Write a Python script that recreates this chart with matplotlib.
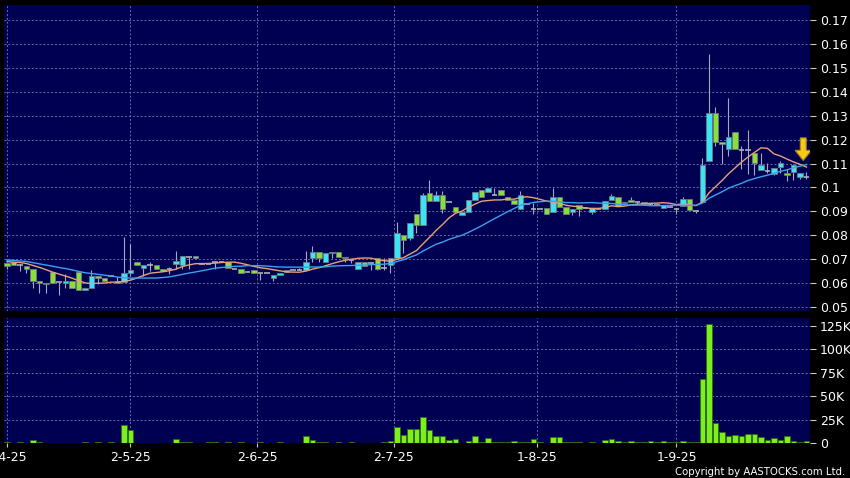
import numpy as np
import pandas as pd
import matplotlib
matplotlib.use("Agg")
import matplotlib.pyplot as plt
from matplotlib.patches import Polygon
from matplotlib.ticker import FixedLocator, FuncFormatter

# daily OHLC, one value per trading day (124 days)
opens = [
    0.0685, 0.069, 0.0675, 0.0672, 0.0658, 0.0608, 0.060, 0.0645, 0.0605, 0.060,
    0.0608, 0.0645, 0.0572, 0.058, 0.063, 0.0622, 0.063, 0.061, 0.0604, 0.0643,
    0.0689, 0.0665, 0.0675, 0.0675, 0.066, 0.0657, 0.068, 0.0674, 0.071, 0.0712,
    0.068, 0.068, 0.0688, 0.0688, 0.0689, 0.066, 0.0661, 0.0648, 0.0653, 0.0644,
    0.0644, 0.0621, 0.0632, 0.0654, 0.0654, 0.0655, 0.0654, 0.0703, 0.0732, 0.069,
    0.0724, 0.0732, 0.0711, 0.0695, 0.0661, 0.069, 0.0685, 0.0703, 0.0664, 0.0674,
    0.0703, 0.0803, 0.0789, 0.089, 0.0842, 0.0976, 0.0942, 0.097, 0.094, 0.092,
    0.0883, 0.0899, 0.0949, 0.099, 0.098, 0.0968, 0.099, 0.0962, 0.0949, 0.0911,
    0.093, 0.0911, 0.091, 0.0912, 0.0896, 0.0958, 0.0917, 0.0899, 0.0926, 0.0915,
    0.0899, 0.091, 0.091, 0.0949, 0.0958, 0.0935, 0.0947, 0.094, 0.0938, 0.093,
    0.0925, 0.0912, 0.092, 0.091, 0.0923, 0.0951, 0.0902, 0.0941, 0.1109, 0.1311,
    0.119, 0.1162, 0.1232, 0.1158, 0.1158, 0.1144, 0.1074, 0.1068, 0.1056, 0.1084,
    0.106, 0.1064, 0.1045, 0.1045,
]
highs = [
    0.0688, 0.069, 0.068, 0.0672, 0.0658, 0.0608, 0.060, 0.0645, 0.0605, 0.064,
    0.0608, 0.0645, 0.058, 0.0653, 0.063, 0.0622, 0.063, 0.0625, 0.0792, 0.0764,
    0.0689, 0.0675, 0.0689, 0.0675, 0.066, 0.0668, 0.0735, 0.0712, 0.071, 0.0712,
    0.0685, 0.068, 0.0688, 0.0688, 0.0689, 0.066, 0.0661, 0.0648, 0.0653, 0.0644,
    0.0644, 0.0632, 0.0644, 0.0654, 0.0654, 0.0662, 0.0735, 0.0755, 0.0732, 0.0724,
    0.0732, 0.0732, 0.0711, 0.0695, 0.069, 0.069, 0.0685, 0.0703, 0.0703, 0.0703,
    0.0856, 0.0803, 0.0853, 0.089, 0.0975, 0.1029, 0.0985, 0.0985, 0.094, 0.092,
    0.0899, 0.0949, 0.098, 0.099, 0.0999, 0.0999, 0.099, 0.0962, 0.0949, 0.0985,
    0.093, 0.0935, 0.091, 0.0912, 0.0996, 0.0958, 0.0917, 0.091, 0.0926, 0.0915,
    0.0915, 0.091, 0.0944, 0.0972, 0.0958, 0.094, 0.0958, 0.0945, 0.0938, 0.0935,
    0.0925, 0.0926, 0.092, 0.0915, 0.0962, 0.0951, 0.0902, 0.1123, 0.1559, 0.1335,
    0.119, 0.1372, 0.1232, 0.1175, 0.1242, 0.1144, 0.1144, 0.1102, 0.1081, 0.111,
    0.1075, 0.110, 0.1059, 0.1065,
]
lows = [
    0.066, 0.0675, 0.065, 0.0642, 0.058, 0.0558, 0.0558, 0.060, 0.0551, 0.058,
    0.058, 0.0572, 0.0572, 0.058, 0.0597, 0.061, 0.063, 0.060, 0.0604, 0.063,
    0.0675, 0.063, 0.0651, 0.0661, 0.0651, 0.064, 0.0661, 0.066, 0.066, 0.0703,
    0.068, 0.068, 0.066, 0.0688, 0.0664, 0.066, 0.0644, 0.0648, 0.0644, 0.0612,
    0.0644, 0.061, 0.0632, 0.0646, 0.0654, 0.0655, 0.0654, 0.069, 0.069, 0.069,
    0.0703, 0.0711, 0.069, 0.0685, 0.0661, 0.067, 0.0654, 0.0654, 0.0654, 0.0643,
    0.0703, 0.0724, 0.0782, 0.081, 0.0842, 0.0942, 0.0942, 0.0893, 0.094, 0.0899,
    0.0883, 0.0899, 0.0949, 0.0962, 0.098, 0.0968, 0.097, 0.0949, 0.0932, 0.0911,
    0.093, 0.089, 0.091, 0.0889, 0.0896, 0.0917, 0.0889, 0.0885, 0.0882, 0.0915,
    0.089, 0.091, 0.091, 0.0949, 0.0921, 0.0935, 0.094, 0.093, 0.093, 0.093,
    0.0925, 0.0912, 0.092, 0.089, 0.0923, 0.0904, 0.0895, 0.0941, 0.1109, 0.1172,
    0.110, 0.113, 0.1162, 0.1075, 0.1055, 0.1052, 0.1074, 0.1059, 0.105, 0.106,
    0.1025, 0.103, 0.1035, 0.1035,
]
closes = [
    0.067, 0.0675, 0.0675, 0.0658, 0.0608, 0.060, 0.0595, 0.060, 0.0605, 0.061,
    0.058, 0.0572, 0.058, 0.063, 0.0622, 0.061, 0.063, 0.060, 0.0643, 0.0653,
    0.0675, 0.0675, 0.0675, 0.0661, 0.0651, 0.0657, 0.0692, 0.0712, 0.071, 0.0703,
    0.068, 0.068, 0.0688, 0.0688, 0.0664, 0.066, 0.0644, 0.0648, 0.0644, 0.0644,
    0.0644, 0.0632, 0.0644, 0.0646, 0.0654, 0.0655, 0.069, 0.0732, 0.0703, 0.0724,
    0.0732, 0.0711, 0.0703, 0.0695, 0.069, 0.067, 0.0685, 0.0661, 0.0664, 0.0703,
    0.0811, 0.0782, 0.0853, 0.0842, 0.097, 0.0942, 0.097, 0.0911, 0.094, 0.0899,
    0.0899, 0.0949, 0.098, 0.0962, 0.0999, 0.0968, 0.097, 0.0949, 0.0932, 0.097,
    0.093, 0.0911, 0.091, 0.0889, 0.0958, 0.0917, 0.0889, 0.091, 0.091, 0.0915,
    0.0915, 0.091, 0.0944, 0.0965, 0.0921, 0.094, 0.094, 0.094, 0.093, 0.093,
    0.0925, 0.0926, 0.092, 0.091, 0.0951, 0.0904, 0.0902, 0.1092, 0.1311, 0.119,
    0.1181, 0.121, 0.1162, 0.1158, 0.1158, 0.1102, 0.1092, 0.1068, 0.1081, 0.1102,
    0.1053, 0.1092, 0.1059, 0.1045,
]
# volume in thousands of shares
volume_k = [
    1, 0.5, 1.5, 0.5, 3, 1.5, 0.5, 0.5, 0.5, 0.3,
    0.5, 0.3, 1.5, 0.3, 1.5, 0.3, 1.5, 0.5, 19, 13.5,
    0.3, 0.3, 0.3, 0.3, 0.3, 0.3, 4, 1.5, 1.5, 0.3,
    0.3, 1, 1.5, 0.3, 1.5, 0.3, 1.5, 0.3, 0.3, 1.5,
    0.3, 0.3, 1.5, 0.3, 0.3, 0.3, 7, 3.5, 1.5, 1.5,
    0.5, 1.5, 0.3, 1, 0.3, 0.3, 0.5, 0.5, 1.5, 2.5,
    17, 9, 15, 15, 28, 14, 7, 8, 3.5, 4,
    0.3, 2, 8, 1.5, 5, 1.5, 0.8, 1, 1.8, 1.5,
    0.8, 4.5, 0.8, 0.3, 6.5, 6, 1, 0.8, 1.5, 0.3,
    0.8, 0.3, 3.5, 4.5, 2.5, 1.5, 1.8, 1.5, 1.5, 2,
    1.5, 1.8, 1.5, 1, 2, 1.5, 1, 68, 127, 21,
    12, 8, 8.5, 8, 9.5, 9.5, 6.5, 3.5, 5, 3.5,
    7, 2, 1, 2,
]
# closes before the window, only needed to start the moving averages
prev_closes = [0.071, 0.072, 0.070, 0.071, 0.070, 0.069, 0.070, 0.071, 0.070, 0.069,
               0.070, 0.069, 0.070, 0.069, 0.068, 0.069, 0.070, 0.069, 0.069]

date_labels = ["1-4-25", "2-5-25", "2-6-25", "2-7-25", "1-8-25", "1-9-25"]
date_pos = [0, 19, 38.5, 59.5, 81.5, 103]
price_ticks = [0.05, 0.06, 0.07, 0.08, 0.09, 0.10, 0.11, 0.12, 0.13, 0.14, 0.15, 0.16, 0.17]
vol_ticks = [0, 25, 50, 75, 100, 125]

BG = '#000052'
UP = '#3ae4f4'
DOWN = '#86e03a'
GRID = '#6a6aa6'

o = np.array(opens)
h = np.array(highs)
l = np.array(lows)
c = np.array(closes)
x = np.arange(len(c))

allc = pd.Series(prev_closes + closes)
ma10 = allc.rolling(10).mean().values[len(prev_closes):]
ma20 = allc.rolling(20).mean().values[len(prev_closes):]

fig = plt.figure(figsize=(8.5, 4.78), dpi=100, facecolor='black')
W, H = 850, 478
ax = fig.add_axes([4 / W, 1 - 311 / H, 806 / W, 306 / H])
axv = fig.add_axes([4 / W, 1 - 443 / H, 806 / W, 125 / H], sharex=ax)

for a in (ax, axv):
    a.set_facecolor(BG)
    for s in a.spines.values():
        s.set_visible(False)
    a.yaxis.tick_right()
    a.tick_params(axis='y', colors='#c8c8c8', labelcolor='white', length=4,
                  width=0.8, pad=3, labelsize=9)
    a.grid(True, color=GRID, linestyle=(0, (2, 2)), linewidth=0.7)
    a.set_axisbelow(True)

# candles
ax.vlines(x, l, h, color='#a8a8b8', linewidth=0.8, zorder=2)
up = c > o
dn = c < o
ax.bar(x[up], (c - o)[up], bottom=o[up], width=0.78, color=UP,
       edgecolor='#707880', linewidth=0.6, zorder=3)
ax.bar(x[dn], (o - c)[dn], bottom=c[dn], width=0.78, color=DOWN,
       edgecolor='#707880', linewidth=0.6, zorder=3)
flat = c == o
ax.hlines(c[flat], x[flat] - 0.42, x[flat] + 0.42, color='#b0b0b8', linewidth=1.2, zorder=3)

ax.plot(x, ma10, color='#e8a07a', linewidth=1.0, zorder=4)
ax.plot(x, ma20, color='#3ea0ee', linewidth=1.0, zorder=4)

# yellow marker arrow on the latest bar
tx, ty = x[-1] - 0.5, 0.1113
arrow = Polygon([(tx, ty), (tx - 1.25, ty + 0.0042), (tx - 0.45, ty + 0.0042),
                 (tx - 0.45, ty + 0.0094), (tx + 0.45, ty + 0.0094),
                 (tx + 0.45, ty + 0.0042), (tx + 1.25, ty + 0.0042)],
                closed=True, facecolor='#f6c81c', edgecolor='#b88a00',
                linewidth=0.8, zorder=6)
ax.add_patch(arrow)

ax.set_ylim(0.04833, 0.17628)
ax.set_xlim(-0.46, 123.54)
ax.yaxis.set_major_locator(FixedLocator(price_ticks))
ax.yaxis.set_major_formatter(FuncFormatter(lambda v, p: '%g' % round(v, 2)))
ax.tick_params(axis='x', length=0, labelbottom=False)

# volume
axv.bar(x, volume_k, width=0.9, color='#7cf01e', edgecolor='#2f6a10', linewidth=0.6, zorder=3)
axv.set_ylim(0, 133.5)
axv.yaxis.set_major_locator(FixedLocator(vol_ticks))
axv.yaxis.set_major_formatter(FuncFormatter(lambda v, p: '%dK' % v if v else '0'))

axv.xaxis.set_major_locator(FixedLocator(date_pos))
axv.set_xticklabels(date_labels)
axv.tick_params(axis='x', colors='#c8c8c8', labelcolor='white', length=3,
                width=0.8, pad=3, labelsize=9)

fig.text(845 / W, 1 - 472 / H, "Copyright by AASTOCKS.com Ltd.", ha='right',
         va='center', color='white', fontsize=7.3)

fig.savefig('out.png', dpi=100, facecolor='black')
